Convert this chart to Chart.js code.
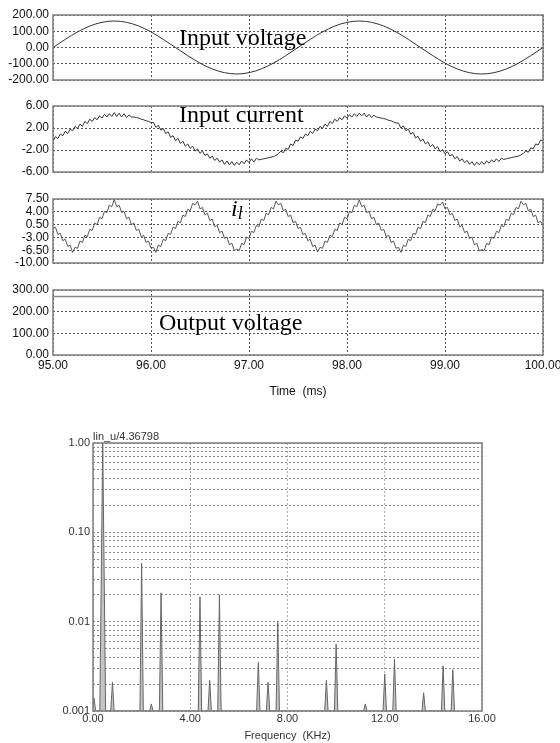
<!DOCTYPE html>
<html>
<head>
<meta charset="utf-8">
<script src="https://cdn.jsdelivr.net/npm/chart.js@4.4.1/dist/chart.umd.min.js"></script>
<style>
body { margin: 0; background: #fff; }
#page { position: relative; width: 560px; height: 743px; overflow: hidden; }
canvas { position: absolute; left: 0; }
.lbl { position: absolute; font-family: 'Liberation Serif', 'Times New Roman', serif; font-size: 24px; line-height: 24px; color: #000; white-space: nowrap; }
.note { position: absolute; font-family: 'Liberation Sans', Arial, sans-serif; font-size: 11px; line-height: 12px; color: #333; white-space: nowrap; }
</style>
</head>
<body>
<div id="page">
  <canvas id="vin" width="560" height="90" style="top:0px"></canvas>
  <canvas id="iin" width="560" height="90" style="top:90px"></canvas>
  <canvas id="il" width="560" height="90" style="top:185px"></canvas>
  <canvas id="vout" width="560" height="124" style="top:275px"></canvas>
  <canvas id="spec" width="560" height="323" style="top:420px"></canvas>

  <div class="lbl" style="left:179px;top:25px">Input voltage</div>
  <div class="lbl" style="left:179px;top:102px">Input current</div>
  <div class="lbl" style="left:231px;top:196px;font-style:italic">i<span style="font-size:18px;position:relative;top:3px">l</span></div>
  <div class="lbl" style="left:159px;top:310px">Output voltage</div>
  <div class="note" style="left:93px;top:430px">lin_u/4.36798</div>
</div>

<script>
// time axis (ms)
const tStart = 95;
const timeTicks = [95, 96, 97, 98, 99, 100];

// input voltage, one sample every 0.125 ms
const vinStep = 0.125;
const vinValues = [0, 50, 96, 132, 155, 163, 155, 132, 96, 50, 0, -50, -96, -132, -155, -163, -155, -132, -96, -50,
  0, 50, 96, 132, 155, 163, 155, 132, 96, 50, 0, -50, -96, -132, -155, -163, -155, -132, -96, -50, 0];
const vinTicks = [200, 100, 0, -100, -200];

// input current, one sample every 0.025 ms
const iinStep = 0.025;
const iinValues = [
  -0.4, 0.4, 0.1, 0.9, 0.6, 1.4, 1.0, 1.8, 1.5, 2.3, 1.9, 2.7, 2.3, 3.2, 2.8, 3.6, 3.2, 3.9, 3.5, 4.2,
  3.8, 4.5, 4.0, 4.6, 4.1, 4.8, 4.1, 4.7, 4.0, 4.6, 3.9, 4.4, 4.0, 4.0, 3.9, 3.8, 3.6, 3.5, 3.3, 3.2,
  3.0, 3.0, 2.1, 2.5, 1.6, 1.9, 1.0, 1.3, 0.3, 0.6, -0.3, 0.1, -0.8, -0.4, -1.3, -0.9, -1.7, -1.3, -2.2, -1.8,
  -2.6, -2.2, -3.0, -2.7, -3.5, -3.1, -3.9, -3.5, -4.2, -3.8, -4.6, -4.0, -4.7, -4.1, -4.8, -4.2, -4.7, -4.0, -4.5, -3.8,
  -4.3, -3.6, -4.2, -3.5, -3.8, -3.7, -3.6, -3.5, -3.4, -3.3, -3.2, -3.0, -2.7, -2.2, -2.5, -1.7, -1.9, -0.9, -1.2, -0.2,
  -0.4, 0.4, 0.1, 0.9, 0.6, 1.4, 1.0, 1.8, 1.5, 2.3, 1.9, 2.7, 2.3, 3.2, 2.8, 3.6, 3.2, 3.9, 3.5, 4.2,
  3.8, 4.4, 4.0, 4.6, 4.1, 4.7, 4.2, 4.7, 4.0, 4.5, 3.9, 4.3, 4.0, 3.9, 3.8, 3.7, 3.6, 3.4, 3.3, 3.1,
  2.9, 2.9, 2.0, 2.4, 1.5, 1.8, 0.9, 1.2, 0.2, 0.5, -0.4, 0.0, -0.9, -0.5, -1.4, -1.0, -1.8, -1.4, -2.3, -1.9,
  -2.7, -2.3, -3.1, -2.8, -3.6, -3.2, -4.0, -3.6, -4.3, -3.9, -4.6, -4.1, -4.8, -4.2, -4.7, -4.1, -4.6, -4.0, -4.4, -3.8,
  -4.2, -3.6, -4.1, -3.5, -3.7, -3.6, -3.5, -3.4, -3.3, -3.2, -3.1, -2.9, -2.6, -2.2, -2.4, -1.6, -1.8, -0.9, -1.1, -0.2,
  -0.3];
const iinTicks = [6, 2, -2, -6];

// inductor current i_l, one sample every 0.025 ms
const ilStep = 0.025;
const ilValues = [
  -0.6, -0.2, -2.2, -1.9, -3.9, -3.5, -5.5, -5.1, -7.1, -5.7, -6.0, -4.0, -4.4, -2.4, -2.8, -0.8, -1.1, 0.9, 0.5, 2.5,
  2.1, 4.1, 3.8, 5.8, 5.4, 7.4, 5.4, 5.8, 3.8, 4.1, 2.1, 2.5, 0.5, 0.9, -1.1, -0.8, -2.8, -2.4, -4.4, -4.0,
  -6.0, -5.7, -7.1, -5.1, -5.5, -3.5, -3.9, -1.9, -2.2, -0.2, -0.6, 1.4, 1.0, 3.1, 2.7, 4.7, 4.3, 6.3, 5.9, 6.9,
  4.8, 5.2, 3.2, 3.6, 1.6, 2.0, -0.1, 0.3, -1.7, -1.3, -3.3, -2.9, -5.0, -4.6, -6.6, -6.2, -6.6, -4.6, -5.0, -2.9,
  -3.3, -1.3, -1.7, 0.3, -0.1, 2.0, 1.6, 3.6, 3.2, 5.2, 4.8, 6.9, 5.9, 6.3, 4.3, 4.7, 2.7, 3.1, 1.0, 1.4,
  -0.6, -0.2, -2.2, -1.9, -3.9, -3.5, -5.5, -5.1, -7.0, -5.7, -6.0, -4.0, -4.4, -2.4, -2.8, -0.8, -1.1, 0.9, 0.5, 2.5,
  2.1, 4.1, 3.8, 5.8, 5.4, 7.3, 5.4, 5.8, 3.8, 4.1, 2.1, 2.5, 0.5, 0.9, -1.1, -0.8, -2.8, -2.4, -4.4, -4.0,
  -6.0, -5.7, -7.1, -5.1, -5.5, -3.5, -3.9, -1.9, -2.2, -0.2, -0.6, 1.4, 1.0, 3.1, 2.7, 4.7, 4.3, 6.2, 5.8, 6.7,
  4.8, 5.2, 3.2, 3.6, 1.6, 2.0, -0.1, 0.3, -1.7, -1.3, -3.3, -2.9, -5.0, -4.6, -6.7, -6.3, -6.6, -4.6, -5.0, -2.9,
  -3.3, -1.3, -1.7, 0.3, -0.1, 2.0, 1.6, 3.6, 3.2, 5.2, 4.8, 6.9, 5.9, 6.3, 4.3, 4.7, 2.7, 3.1, 1.0, 1.4,
  0.2];
const ilTicks = [7.5, 4, 0.5, -3, -6.5, -10];

// output voltage, one sample every 1 ms
const voutStep = 1;
const voutValues = [270, 270, 270, 270, 270, 270];
const voutTicks = [300, 200, 100, 0];

// harmonic spectrum of lin_u (frequency in kHz, normalised amplitude)
const specFreq = [0.04, 0.4, 0.8, 2.0, 2.4, 2.8, 4.4, 4.8, 5.2, 6.8, 7.2, 7.6, 9.6, 10.0, 11.2, 12.0, 12.4, 13.6, 14.4, 14.8];
const specAmp = [0.0014, 1.0, 0.0021, 0.045, 0.0012, 0.021, 0.019, 0.0022, 0.020, 0.0035, 0.0021, 0.0098,
  0.0022, 0.0056, 0.0012, 0.0026, 0.0038, 0.0016, 0.0032, 0.0029];
const freqTicks = [0, 4, 8, 12, 16];
const specTickVals = [0.001, 0.01, 0.1, 1];
const specTickLabels = ['0.001', '0.01', '0.10', '1.00'];

Chart.defaults.font.family = "'Liberation Sans', Arial, sans-serif";

const frame = {
  id: 'frame',
  afterDraw(chart) {
    const a = chart.chartArea;
    const c = chart.ctx;
    c.save();
    c.strokeStyle = '#7d7d7d';
    c.lineWidth = 1.5;
    c.strokeRect(a.left, a.top, a.right - a.left, a.bottom - a.top);
    c.restore();
  }
};

function waveChart(id, values, step, yTicks, o) {
  const pts = values.map((v, i) => ({x: tStart + i * step, y: v}));
  const font = {size: 12};
  new Chart(document.getElementById(id), {
    type: 'line',
    data: {
      datasets: [{
        data: pts,
        borderColor: o.color,
        borderWidth: o.width,
        pointRadius: 0,
        tension: 0,
        cubicInterpolationMode: o.smooth ? 'monotone' : 'default'
      }]
    },
    options: {
      responsive: false,
      animation: false,
      devicePixelRatio: 1,
      events: [],
      layout: {padding: {top: o.top, bottom: o.bottom, left: 0, right: 17}},
      plugins: {legend: {display: false}, tooltip: {enabled: false}},
      scales: {
        x: {
          type: 'linear',
          min: timeTicks[0],
          max: timeTicks[timeTicks.length - 1],
          afterBuildTicks: s => { s.ticks = timeTicks.map(v => ({value: v})); },
          afterFit: s => { s.height = o.axisH; s.paddingLeft = 0; s.paddingRight = 0; },
          ticks: {display: !!o.showTime, padding: 3, font, color: '#111', maxRotation: 0, autoSkip: false,
            callback: v => Number(v).toFixed(2)},
          grid: {color: '#555', lineWidth: 1, drawTicks: false},
          border: {display: false, dash: [2, 2]},
          title: {display: !!o.showTime, text: 'Time  (ms)', font, color: '#111', padding: 0}
        },
        y: {
          min: yTicks[yTicks.length - 1],
          max: yTicks[0],
          afterBuildTicks: s => { s.ticks = yTicks.slice().reverse().map(v => ({value: v})); },
          afterFit: s => { s.width = 53; s.paddingTop = 0; s.paddingBottom = 0; },
          ticks: {padding: 4, font, color: '#111', autoSkip: false, callback: v => Number(v).toFixed(2)},
          grid: {color: '#555', lineWidth: 1, drawTicks: false},
          border: {display: false, dash: [2, 2]}
        }
      }
    },
    plugins: [frame]
  });
}

waveChart('vin', vinValues, vinStep, vinTicks, {color: '#333', width: 1, smooth: true, top: 15, bottom: 10, axisH: 0});
waveChart('iin', iinValues, iinStep, iinTicks, {color: '#333', width: 1, top: 16, bottom: 8, axisH: 0});
waveChart('il', ilValues, ilStep, ilTicks, {color: '#555', width: 1, top: 14, bottom: 12, axisH: 0});
waveChart('vout', voutValues, voutStep, voutTicks, {color: '#888', width: 1.5, top: 15, bottom: 0, axisH: 44, showTime: true});

// spectrum: every harmonic drawn as a narrow spike from the floor
const specFloor = specTickVals[0];
const spikePts = [];
specFreq.forEach((f, i) => {
  const w = specAmp[i] > 0.5 ? 0.12 : 0.07;
  spikePts.push({x: f - w, y: specFloor}, {x: f, y: specAmp[i]}, {x: f + w, y: specFloor});
});

const specGrid = [];
specTickVals.slice(0, -1).forEach(d => {
  for (let m = 1; m < 10; m++) specGrid.push(d * m);
});
specGrid.push(specTickVals[specTickVals.length - 1]);

const sFont = {size: 11};
new Chart(document.getElementById('spec'), {
  type: 'line',
  data: {
    datasets: [{
      data: spikePts,
      borderColor: '#666',
      borderWidth: 1,
      backgroundColor: '#c4c4c4',
      fill: 'start',
      pointRadius: 0,
      tension: 0
    }]
  },
  options: {
    responsive: false,
    animation: false,
    devicePixelRatio: 1,
    events: [],
    layout: {padding: {top: 23, bottom: 0, left: 0, right: 78}},
    plugins: {legend: {display: false}, tooltip: {enabled: false}},
    scales: {
      x: {
        type: 'linear',
        min: freqTicks[0],
        max: freqTicks[freqTicks.length - 1],
        afterBuildTicks: s => { s.ticks = freqTicks.map(v => ({value: v})); },
        afterFit: s => { s.height = 32; s.paddingLeft = 0; s.paddingRight = 0; },
        ticks: {padding: 1, font: sFont, color: '#333', maxRotation: 0, autoSkip: false,
          callback: v => Number(v).toFixed(2)},
        grid: {color: '#aaa', lineWidth: 1, drawTicks: false},
        border: {display: false, dash: [2, 2]},
        title: {display: true, text: 'Frequency  (KHz)', font: sFont, color: '#333', padding: 0}
      },
      y: {
        type: 'logarithmic',
        min: specTickVals[0],
        max: specTickVals[specTickVals.length - 1],
        afterBuildTicks: s => { s.ticks = specGrid.map(v => ({value: v})); },
        afterFit: s => { s.width = 93; s.paddingTop = 0; s.paddingBottom = 0; },
        ticks: {padding: 3, font: sFont, color: '#333', autoSkip: false,
          callback: v => {
            const k = specTickVals.findIndex(t => Math.abs(t - v) / t < 1e-6);
            return k >= 0 ? specTickLabels[k] : '';
          }},
        grid: {color: '#888', lineWidth: 1, drawTicks: false},
        border: {display: false, dash: [2, 2]}
      }
    }
  },
  plugins: [frame]
});
</script>
</body>
</html>
